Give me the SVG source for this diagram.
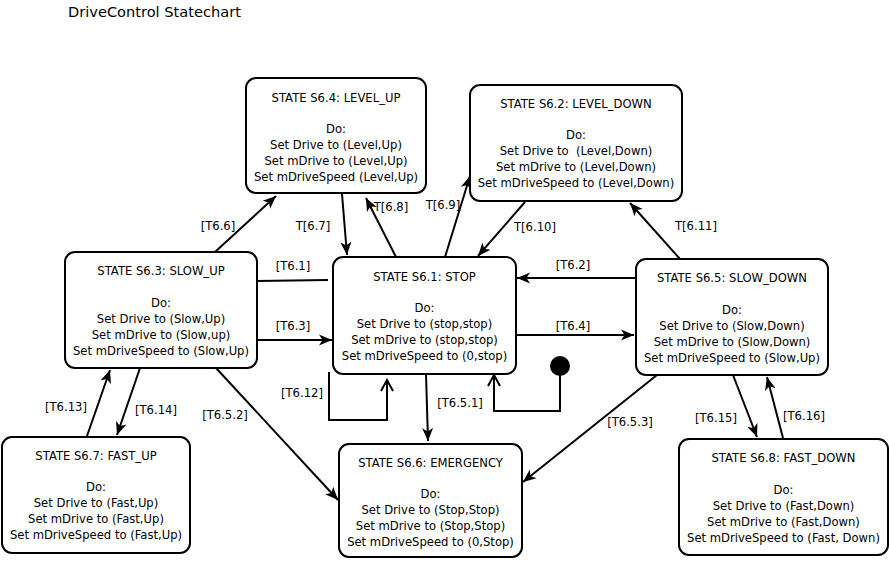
<svg xmlns="http://www.w3.org/2000/svg" width="889" height="561" viewBox="0 0 889 561">
<style>
text{font-family:"DejaVu Sans","Liberation Sans",sans-serif;font-size:11.6px;fill:#000;text-anchor:middle;white-space:pre}
.title{font-size:14.6px;text-anchor:start}
.box{fill:#fff;stroke:#000;stroke-width:2}
.c{fill:none;stroke:#000;stroke-width:2}
.a{marker-end:url(#arr)}
.o{marker-end:url(#open)}
</style>
<defs>
<marker id="arr" markerUnits="userSpaceOnUse" markerWidth="14" markerHeight="12" refX="13" refY="6" orient="auto">
<path d="M0,0.5 L13,6 L0,11.5 L3.5,6 z" fill="#000"/>
</marker>
<marker id="open" markerUnits="userSpaceOnUse" markerWidth="14" markerHeight="14" refX="12" refY="7" orient="auto">
<path d="M1,1 L12,7 L1,13" fill="none" stroke="#000" stroke-width="2"/>
</marker>
</defs>
<rect width="889" height="561" fill="#fff"/>
<text class="title" x="68" y="17">DriveControl Statechart</text>

<g id="connectors">
<path class="c a" d="M215,252 L276,196"/>
<path class="c a" d="M342,194 L347,255"/>
<path class="c a" d="M396,257 L366,198"/>
<path class="c a" d="M445,257 L470,176"/>
<path class="c a" d="M525,202 L478,256"/>
<path class="c a" d="M680,259 L630,203"/>
<path class="c" d="M257,281 L328,280"/>
<path class="c a" d="M257,340 L332,340"/>
<path class="c a" d="M636,278 L517,278"/>
<path class="c a" d="M516,335 L634,335"/>
<path class="c o" d="M329,372 L329,420 L387,420 L387,380"/>
<path class="c o" d="M560,366 L560,411 L494,411 L494,375"/>
<path class="c a" d="M426,374 L428,441"/>
<path class="c a" d="M216,368 L338,500"/>
<path class="c a" d="M657,375 L523,482"/>
<path class="c a" d="M87,436 L110,370"/>
<path class="c a" d="M140,368 L117,435"/>
<path class="c a" d="M733,375 L757,437"/>
<path class="c a" d="M783,438 L767,377"/>
<circle cx="560" cy="366" r="10" fill="#000"/>
<text x="218" y="230">[T6.6]</text>
<text x="313" y="230">T[6.7]</text>
<text x="391" y="211">T[6.8]</text>
<text x="443" y="209">T[6.9]</text>
<text x="535" y="231">T[6.10]</text>
<text x="696" y="230">T[6.11]</text>
<text x="293" y="270">[T6.1]</text>
<text x="293" y="330">[T6.3]</text>
<text x="573" y="269">[T6.2]</text>
<text x="573" y="330">[T6.4]</text>
<text x="302" y="397">[T6.12]</text>
<text x="460" y="407">[T6.5.1]</text>
<text x="225" y="419">[T6.5.2]</text>
<text x="630" y="426">[T6.5.3]</text>
<text x="66" y="411">[T6.13]</text>
<text x="156" y="414">[T6.14]</text>
<text x="716" y="422">[T6.15]</text>
<text x="804" y="420">[T6.16]</text>
</g>

<g id="s64">
<rect class="box" x="246" y="78" width="180" height="115" rx="10"/>
<text x="336" y="102">STATE S6.4: LEVEL_UP</text>
<text x="336" y="133">Do:</text>
<text x="336" y="149">Set Drive to (Level,Up)</text>
<text x="336" y="165">Set mDrive to (Level,Up)</text>
<text x="336" y="181">Set mDriveSpeed (Level,Up)</text>
</g>
<g id="s62">
<rect class="box" x="470" y="85" width="212" height="116" rx="10"/>
<text x="576" y="108">STATE S6.2: LEVEL_DOWN</text>
<text x="576" y="139">Do:</text>
<text x="576" y="155">Set Drive to  (Level,Down)</text>
<text x="576" y="171">Set mDrive to (Level,Down)</text>
<text x="576" y="187">Set mDriveSpeed to (Level,Down)</text>
</g>
<g id="s63">
<rect class="box" x="65" y="252" width="192" height="116" rx="10"/>
<text x="161" y="275">STATE S6.3: SLOW_UP</text>
<text x="161" y="307">Do:</text>
<text x="161" y="323">Set Drive to (Slow,Up)</text>
<text x="161" y="339">Set mDrive to (Slow,up)</text>
<text x="161" y="355">Set mDriveSpeed to (Slow,Up)</text>
</g>
<g id="s61">
<rect class="box" x="333" y="257" width="183" height="117" rx="10"/>
<text x="424.5" y="281">STATE S6.1: STOP</text>
<text x="424.5" y="312">Do:</text>
<text x="424.5" y="328">Set Drive to (stop,stop)</text>
<text x="424.5" y="344">Set mDrive to (stop,stop)</text>
<text x="424.5" y="360">Set mDriveSpeed to (0,stop)</text>
</g>
<g id="s65">
<rect class="box" x="636" y="259" width="192" height="116" rx="10"/>
<text x="732" y="282">STATE S6.5: SLOW_DOWN</text>
<text x="732" y="314">Do:</text>
<text x="732" y="330">Set Drive to (Slow,Down)</text>
<text x="732" y="346">Set mDrive to (Slow,Down)</text>
<text x="732" y="362">Set mDriveSpeed to (Slow,Up)</text>
</g>
<g id="s67">
<rect class="box" x="2" y="437" width="188" height="116" rx="10"/>
<text x="96" y="460">STATE S6.7: FAST_UP</text>
<text x="96" y="491">Do:</text>
<text x="96" y="507">Set Drive to (Fast,Up)</text>
<text x="96" y="523">Set mDrive to (Fast,Up)</text>
<text x="96" y="539">Set mDriveSpeed to (Fast,Up)</text>
</g>
<g id="s66">
<rect class="box" x="339" y="444" width="183" height="113" rx="10"/>
<text x="430.5" y="467">STATE S6.6: EMERGENCY</text>
<text x="430.5" y="498">Do:</text>
<text x="430.5" y="514">Set Drive to (Stop,Stop)</text>
<text x="430.5" y="530">Set mDrive to (Stop,Stop)</text>
<text x="430.5" y="546">Set mDriveSpeed to (0,Stop)</text>
</g>
<g id="s68">
<rect class="box" x="679" y="439" width="209" height="116" rx="10"/>
<text x="783.5" y="462">STATE S6.8: FAST_DOWN</text>
<text x="783.5" y="494">Do:</text>
<text x="783.5" y="510">Set Drive to (Fast,Down)</text>
<text x="783.5" y="526">Set mDrive to (Fast,Down)</text>
<text x="783.5" y="542">Set mDriveSpeed to (Fast, Down)</text>
</g>
</svg>
